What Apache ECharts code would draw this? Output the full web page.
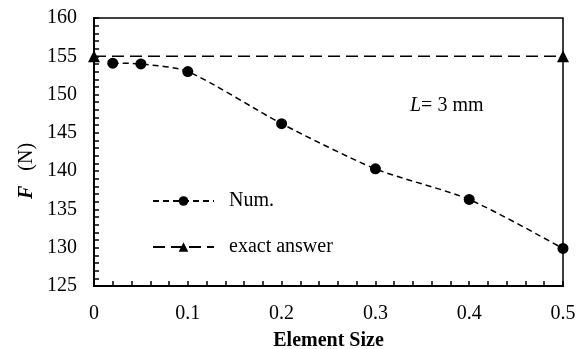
<!DOCTYPE html>
<html>
<head>
<meta charset="utf-8">
<script src="https://cdn.jsdelivr.net/npm/echarts@6/dist/echarts.min.js"></script>
<style>
  html, body { margin: 0; padding: 0; background: #fff; }
  #chart { width: 578px; height: 349px; }
</style>
</head>
<body>
<div id="chart"></div>
<script>
// element sizes and computed force
const elementSize = [0.02, 0.05, 0.1, 0.2, 0.3, 0.4, 0.5];
const numForce = [154.1, 154.0, 153.0, 146.2, 140.3, 136.3, 129.9];
// exact answer drawn across the whole range
const exactSize = [0, 0.5];
const exactForce = [155, 155];

const font = 'Liberation Serif';
const fs = 20;

const chart = echarts.init(document.getElementById('chart'));

const option = {
  animation: false,
  textStyle: { fontFamily: font, color: '#000' },
  grid: {
    left: 94, right: 15, top: 18, bottom: 63,
    outerBoundsMode: 'none', containLabel: false,
    show: true, borderColor: '#000', borderWidth: 1.5
  },
  legend: {
    orient: 'vertical',
    left: 152, top: 191, padding: 0,
    itemWidth: 61, itemHeight: 12, itemGap: 26,
    textStyle: { fontFamily: font, fontSize: fs, color: '#000', padding: [0, 0, 0, 10] },
    data: ['Num.', 'exact answer']
  },
  xAxis: {
    type: 'value', min: 0, max: 0.5, interval: 0.1,
    name: 'Element Size', nameLocation: 'middle', nameGap: 45,
    nameTextStyle: { fontFamily: font, fontSize: fs, fontWeight: 'bold', color: '#000' },
    axisLine: { lineStyle: { color: '#000', width: 2 } },
    axisTick: { inside: true, length: 5, lineStyle: { color: '#000', width: 1.5 } },
    minorTick: { show: true, splitNumber: 5, length: 5, lineStyle: { color: '#000', width: 1.5 } },
    splitLine: { show: false },
    axisLabel: { fontFamily: font, fontSize: fs, color: '#000', margin: 18 }
  },
  yAxis: {
    type: 'value', min: 125, max: 160, interval: 5,
    axisLine: { show: true, lineStyle: { color: '#000', width: 2 } },
    axisTick: { show: true, inside: true, length: 5, lineStyle: { color: '#000', width: 1.5 } },
    minorTick: { show: true, splitNumber: 5, length: 5, lineStyle: { color: '#000', width: 1.5 } },
    splitLine: { show: false },
    axisLabel: { fontFamily: font, fontSize: fs, color: '#000', margin: 17 }
  },
  graphic: [
    {
      type: 'text', x: 27, y: 171, rotation: Math.PI / 2,
      style: {
        text: '{i|F}   (N)', fill: '#000', align: 'center', verticalAlign: 'middle',
        font: fs + 'px "Liberation Serif"',
        rich: { i: { fontFamily: font, fontSize: fs, fontWeight: 'bold', fontStyle: 'italic' } }
      }
    },
    {
      type: 'text', left: 410, top: 96,
      style: {
        text: '{i|L}= 3 mm', fill: '#000',
        font: fs + 'px "Liberation Serif"',
        rich: { i: { fontFamily: font, fontSize: fs, fontStyle: 'italic' } }
      }
    }
  ],
  series: [
    {
      name: 'Num.', type: 'line', smooth: 0.25,
      data: elementSize.map((x, i) => [x, numForce[i]]),
      symbol: 'circle', symbolSize: 11,
      itemStyle: { color: '#000' },
      lineStyle: { color: '#000', width: 1.5, type: [6, 4] },
      z: 3
    },
    {
      name: 'exact answer', type: 'line',
      data: exactSize.map((x, i) => [x, exactForce[i]]),
      symbol: 'triangle', symbolSize: 12,
      itemStyle: { color: '#000' },
      lineStyle: { color: '#000', width: 1.5, type: [12, 6] },
      z: 2
    }
  ]
};

chart.setOption(option);
</script>
</body>
</html>
